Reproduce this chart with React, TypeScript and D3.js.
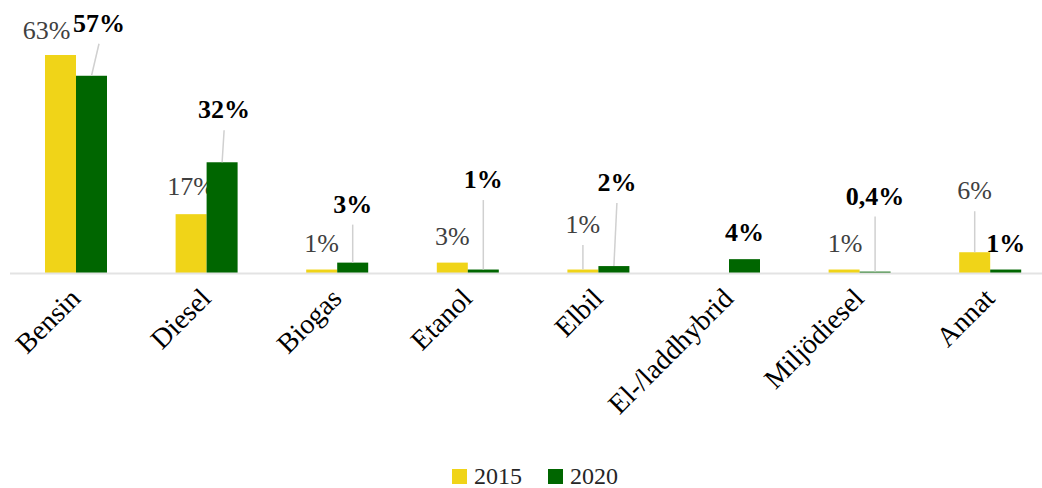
import React from 'react';
import {scaleBand, scaleLinear} from 'd3';

const categories = ['Bensin', 'Diesel', 'Biogas', 'Etanol', 'Elbil', 'El-/laddhybrid', 'Miljödiesel', 'Annat'];
const years = ['2015', '2020'];
const values2015 = [63, 17, 1, 3, 1, null, 1, 6];
const values2020 = [57, 32, 3, 1, 2, 4, 0.4, 1];
const labels2015 = ['63%', '17%', '1%', '3%', '1%', '', '1%', '6%'];
const labels2020 = ['57%', '32%', '3%', '1%', '2%', '4%', '0,4%', '1%'];

// label placement relative to bar top: [dx, dy, leader line]
const offsets2015: [number, number, boolean][] = [
  [-14, -16, false], [0, -19, false], [0, -17.5, false], [0, -17.5, false],
  [0, -36.5, true], [0, -17.5, false], [1, -17.5, false], [0, -53, true],
];
const offsets2020: [number, number, boolean][] = [
  [7.5, -44, true], [2, -44, true], [0, -50, true], [0, -81.5, true],
  [3, -75, true], [0, -18, false], [0, -67, true], [0, -17.5, false],
];

const width = 1042;
const height = 488;
const baseY = 273;
const colors = {'2015': '#F0D418', '2020': '#006600'};
const font = '"Liberation Serif", "Times New Roman", serif';

const x = scaleBand().domain(categories).range([10.7, 10.7 + 8 * 130.6]);
const barW = 31;
const xSub = scaleBand().domain(years).range([0, barW * 2]);
const y = scaleLinear().domain([0, 63]).range([baseY, 55]);

export default function App() {
  const series = [
    {year: '2015', values: values2015, labels: labels2015, offsets: offsets2015},
    {year: '2020', values: values2020, labels: labels2020, offsets: offsets2020},
  ];

  return (
    <svg width={width} height={height} style={{position: 'absolute', left: 0, top: 0, background: '#fff'}} fontFamily={font}>
      {series.map((s) => s.values.map((v, i) => {
        if (v == null) return null;
        const cat = categories[i];
        const bx = (x(cat) as number) + (x.bandwidth() - barW * 2) / 2 + (xSub(s.year) as number);
        const cx = bx + barW / 2;
        const top = y(v);
        const [dx, dy, leader] = s.offsets[i];
        const lx = cx + dx;
        const ly = top + dy;
        return (
          <g key={`${s.year}-${cat}`}>
            <rect x={bx} y={top} width={barW} height={baseY - top} fill={colors[s.year as '2015' | '2020']} />
            {leader && (
              <line x1={lx} y1={ly + 12} x2={cx} y2={top} stroke="#d0d0d0" strokeWidth={1.5} />
            )}
            <text
              x={lx}
              y={ly}
              textAnchor="middle"
              fontSize={26}
              fontWeight={s.year === '2020' ? 'bold' : 'normal'}
              fill={s.year === '2020' ? '#000' : '#404040'}
            >{s.labels[i]}</text>
          </g>
        );
      }))}
      <line x1={10} x2={width} y1={baseY + 0.5} y2={baseY + 0.5} stroke="#e3e3e3" strokeWidth={2} />
      {categories.map((c) => {
        const cx = (x(c) as number) + x.bandwidth() / 2;
        return (
          <text
            key={c}
            transform={`translate(${cx + 6}, 300) rotate(-45)`}
            textAnchor="end"
            fontSize={28}
            fill="#000"
          >{c}</text>
        );
      })}
      {years.map((yr, i) => (
        <g key={yr} transform={`translate(${452 + i * 96}, 469)`}>
          <rect width={15} height={15} fill={colors[yr as '2015' | '2020']} />
          <text x={22} y={15} fontSize={24} fill="#262626">{yr}</text>
        </g>
      ))}
    </svg>
  );
}
